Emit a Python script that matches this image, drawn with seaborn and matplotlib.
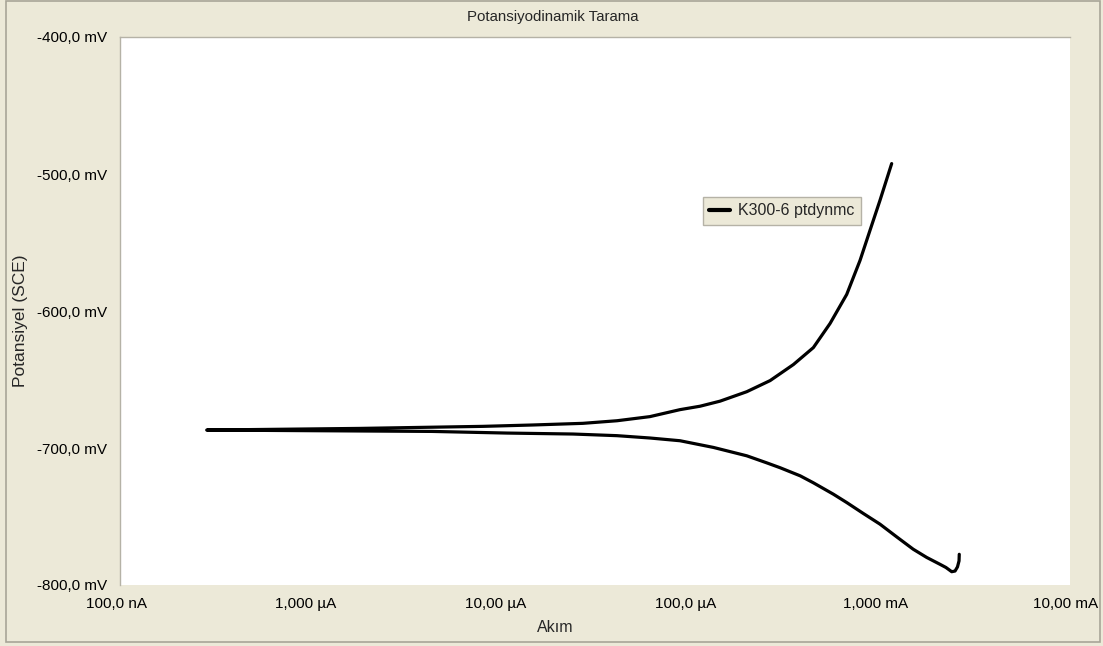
import numpy as np
import pandas as pd
import matplotlib
matplotlib.use("Agg")
import matplotlib.pyplot as plt
import matplotlib.transforms as mtransforms
from matplotlib.ticker import FixedLocator, LogLocator, MultipleLocator, NullFormatter
from matplotlib.patches import Rectangle
import seaborn as sns

# Cathodic branch, from the start of the scan up to the corrosion potential
cathodic_current_uA = [2613, 2606, 2557, 2483, 2385, 2223, 2069, 1762, 1496, 1225,
                       1000, 815, 668, 568, 446, 380, 298, 253, 199, 133, 88.6,
                       61.5, 41.3, 24.2, 10.9, 4.39, 0.286]
cathodic_potential_mV = [-777.6, -782.4, -786.8, -789.8, -790.3, -787.2, -784.9,
                         -779.9, -773.9, -764.9, -755.6, -747.7, -739.8, -733.7,
                         -725.4, -720.3, -714.4, -710.8, -705.7, -699.6, -694.7,
                         -692.7, -691.0, -689.8, -689.1, -687.9, -686.9]

# Anodic branch, from the corrosion potential upwards
anodic_current_uA = [1.83, 8.14, 14.9, 27.3, 41.3, 61.5, 88.6, 113, 144, 199,
                     264, 350, 446, 546, 668, 785, 886, 1000, 1152]
anodic_potential_mV = [-685.7, -684.2, -683.2, -682.0, -680.1, -677.1, -672.0,
                       -669.5, -665.8, -658.9, -650.8, -639.1, -626.7, -609.1,
                       -587.9, -563.1, -541.1, -519.2, -492.4]

series_name = "K300-6 ptdynmc"

x_tick_values_A = [1e-7, 1e-6, 1e-5, 1e-4, 1e-3, 1e-2]
x_tick_labels = ["100,0 nA", "1,000 µA", "10,00 µA", "100,0 µA", "1,000 mA", "10,00 mA"]
y_tick_values = [-800, -700, -600, -500, -400]
y_tick_labels = ["-800,0 mV", "-700,0 mV", "-600,0 mV", "-500,0 mV", "-400,0 mV"]

title_text = "Potansiyodinamik Tarama"
x_label = "Akım"
y_label = "Potansiyel (SCE)"

sns.set_style("white")
plt.rcParams["font.family"] = ["Liberation Sans", "DejaVu Sans"]

current_A = np.array(cathodic_current_uA + anodic_current_uA) * 1e-6
potential = np.array(cathodic_potential_mV + anodic_potential_mV)
df = pd.DataFrame({"current": current_A, "potential": potential,
                   "series": series_name})

panel = "#ECE9D8"
edge = "#B5B2A6"

fig = plt.figure(figsize=(11.03, 6.46), dpi=100, facecolor=panel)
ax = fig.add_axes([120 / 1103, 1 - 585 / 646, 950 / 1103, 548 / 646])
ax.set_facecolor("white")

sns.lineplot(data=df, x="current", y="potential", hue="series", sort=False,
             estimator=None, palette=["black"], linewidth=2.3, ax=ax)
for ln in ax.get_lines():
    ln.set_solid_joinstyle("round")
    ln.set_solid_capstyle("round")

ax.set_xscale("log")
ax.set_xlim(1e-7, 1e-2)
ax.set_ylim(-800, -400)

ax.xaxis.set_major_locator(FixedLocator(x_tick_values_A))
ax.set_xticklabels(x_tick_labels)
ax.xaxis.set_minor_locator(LogLocator(base=10, subs=np.arange(2, 10)))
ax.xaxis.set_minor_formatter(NullFormatter())
ax.yaxis.set_major_locator(FixedLocator(y_tick_values))
ax.set_yticklabels(y_tick_labels)
ax.yaxis.set_minor_locator(MultipleLocator(20))

ax.tick_params(axis="both", which="both", direction="out", color="#A8A598",
               labelsize=11, labelcolor="black", width=0.8)
ax.tick_params(axis="x", which="both", length=3.5, pad=5)
ax.tick_params(axis="y", which="both", length=4, pad=5.5)

# current labels sit a few pixels left of their ticks
shift = mtransforms.ScaledTranslation(-4 / 100, 0, fig.dpi_scale_trans)
for lbl in ax.get_xticklabels():
    lbl.set_transform(lbl.get_transform() + shift)

for side, sp in ax.spines.items():
    sp.set_color(edge)
    sp.set_linewidth(1.0)
ax.spines["right"].set_visible(False)
ax.spines["bottom"].set_visible(False)

ax.set_xlabel("")
ax.set_ylabel("")

leg = ax.legend(loc="upper left", bbox_to_anchor=((703 - 120) / 950, 1 - (197 - 37) / 548),
                frameon=True, fancybox=False, fontsize=11.5, handlelength=1.3,
                borderpad=0.4, handletextpad=0.5, borderaxespad=0)
leg.get_frame().set_facecolor(panel)
leg.get_frame().set_edgecolor(edge)
leg.get_frame().set_alpha(1)
for line in leg.get_lines():
    line.set_linewidth(3)

fig.text(553 / 1103, 1 - 17 / 646, title_text, ha="center", va="center", fontsize=10.8)
fig.text(555 / 1103, 1 - 627 / 646, x_label, ha="center", va="center", fontsize=11.4)
fig.text(21 / 1103, 1 - 321 / 646, y_label, ha="center", va="center",
         rotation=90, fontsize=12.5)

# outer frame of the panel
fig.patches.append(Rectangle((6 / 1103, 4 / 646), 1094 / 1103, 641 / 646,
                             transform=fig.transFigure, fill=False,
                             edgecolor="#A8A598", linewidth=1.2))

fig.savefig("out.png", dpi=100, facecolor=panel)
